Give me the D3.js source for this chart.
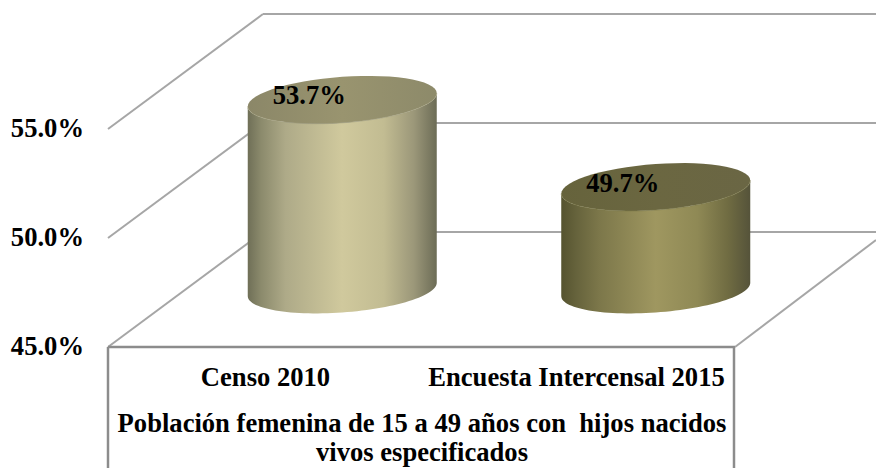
<!DOCTYPE html>
<html><head><meta charset="utf-8">
<script src="https://cdn.jsdelivr.net/npm/d3@7"></script>
<style>html,body{margin:0;padding:0;background:#fff}svg{display:block}text{font-family:"Liberation Serif","Times New Roman",serif;font-weight:bold;fill:#000}</style>
</head><body><svg id="c" width="876" height="468"></svg>
<script>
const categories = ["Censo 2010", "Encuesta Intercensal 2015"];
const values = [53.7, 49.7];
const valueLabels = ["53.7%", "49.7%"];
const yTicks = [45, 50, 55];
const axisTitle = ["Población femenina de 15 a 49 años con  hijos nacidos", "vivos especificados"];
const sideStops = [
  [[0,"#6f6f57"],[0.07,"#8b8a6c"],[0.2,"#aeaa88"],[0.5,"#d0c99d"],[0.72,"#c2bc92"],[0.88,"#9b9779"],[1,"#6c6c56"]],
  [[0,"#55532f"],[0.08,"#66633c"],[0.2,"#7c774a"],[0.5,"#9f9760"],[0.72,"#8f8955"],[0.88,"#706c42"],[1,"#55533a"]]
];
const topStops = [
  [[0,"#8b8768"],[0.5,"#99946f"],[1,"#8d8a6a"]],
  [[0,"#66633c"],[0.5,"#6b6741"],[1,"#6a6644"]]
];
const capShades = ["#a3a07f", "#7b7848"];

const svg = d3.select("#c");
const x = d3.scaleBand().domain(categories).range([108, 735]);
const y = d3.scaleLinear().domain([45, 55]).range([347, 129]);
const depth = {dx: 155, dy: 115};
const grid = "#a6a6a6", edge = "#8c8c8c";
const defs = svg.append("defs");
function grad(id, stops){
  const g = defs.append("linearGradient").attr("id", id);
  stops.forEach(s => g.append("stop").attr("offset", s[0]).attr("stop-color", s[1]));
}
sideStops.forEach((s,i)=>grad("side"+i,s));
topStops.forEach((s,i)=>grad("top"+i,s));

const line = (a,b,c,d,w=2,col=grid)=>svg.append("line").attr("x1",a).attr("y1",b).attr("x2",c).attr("y2",d).attr("stroke",col).attr("stroke-width",w);
yTicks.forEach(t=>{
  const yy=y(t);
  line(108,yy,108+depth.dx,yy-depth.dy);
  line(108+depth.dx,yy-depth.dy,876,yy-depth.dy);
});
// floor front + right edge, category table box
line(735,347,876,240);
line(108,347,735,347,2.5,edge);
line(108,347,108,468,2.5,edge);
line(734,347,734,468,2.5,edge);

// tick labels
svg.selectAll(".tick").data(yTicks).join("text").attr("class","tick")
  .attr("x",84).attr("y",t=>y(t)+8).attr("text-anchor","end").attr("font-size",26.6)
  .text(t=>t.toFixed(1)+"%");

// cylinders
const rx = 94.5, ry = 23, shear = -0.07;
function ell(cx, cy, t0, t1){
  return d3.range(0,61).map(i=>{
    const t=t0+(t1-t0)*i/60;
    return [cx+rx*Math.cos(t), cy+rx*Math.cos(t)*shear+ry*Math.sin(t)];
  });
}
const path = d3.line();
categories.forEach((c,i)=>{
  const cx = x(c)+x.bandwidth()/2+depth.dx/2;
  const yTop = y(values[i])-depth.dy/2;
  const yBot = y(45)-depth.dy/2;
  const body = ell(cx,yBot,0,Math.PI).concat(ell(cx,yTop,Math.PI,0));
  svg.append("path").attr("d",path(body)+"Z").attr("fill",`url(#side${i})`);
  const rim = ell(cx,yTop,0,2*Math.PI);
  svg.append("path").attr("d",path(rim)+"Z").attr("fill",`url(#top${i})`);
  svg.append("path").attr("d",path(ell(cx,yTop,0,Math.PI))).attr("fill","none").attr("stroke",capShades[i]).attr("stroke-width",1).attr("stroke-opacity",0.6);
  svg.append("text").attr("x",cx-33).attr("y",yTop+4.5).attr("text-anchor","middle").attr("font-size",26.6).text(valueLabels[i]);
});

// category labels
svg.selectAll(".cat").data(categories).join("text").attr("class","cat")
  .attr("x",(c,i)=>i==0?265.5:576.5).attr("y",386).attr("text-anchor","middle").attr("font-size",26.6).text(d=>d);
svg.selectAll(".ttl").data(axisTitle).join("text").attr("class","ttl").style("white-space","pre")
  .attr("x",422).attr("y",(d,i)=>432+i*29).attr("text-anchor","middle").attr("font-size",26.6).text(d=>d);
</script></body></html>
